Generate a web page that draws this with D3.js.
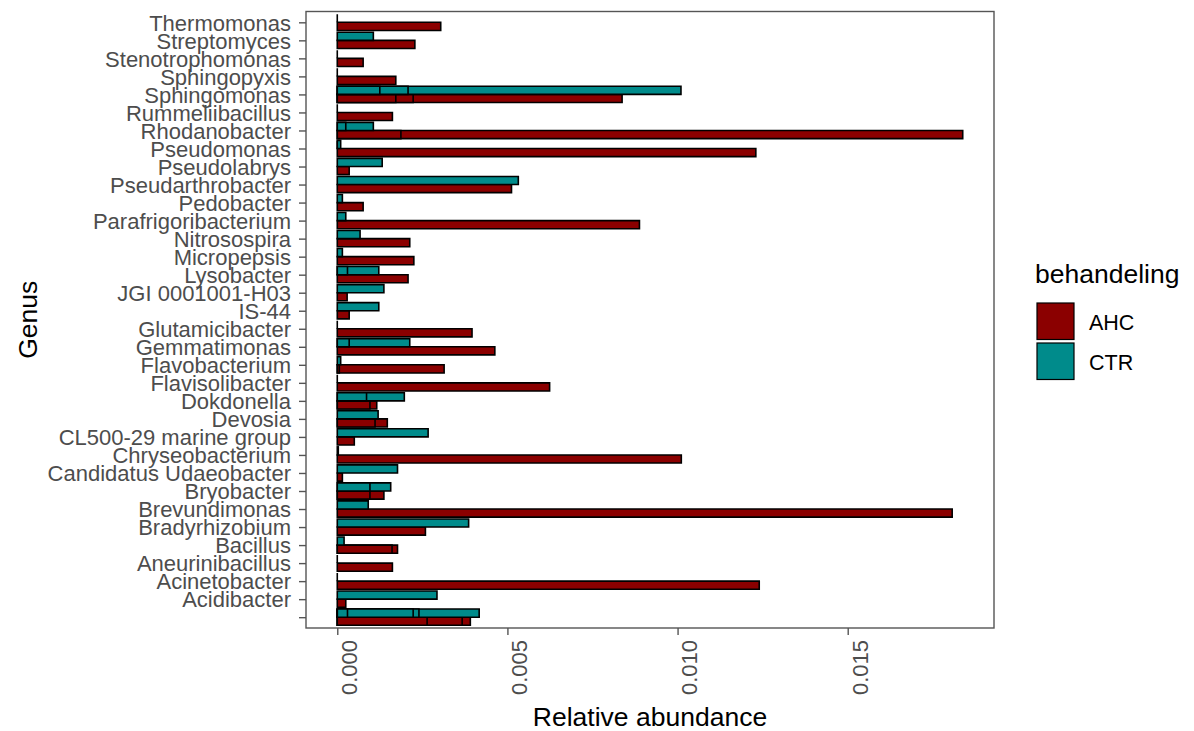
<!DOCTYPE html>
<html>
<head>
<meta charset="utf-8">
<script src="https://cdn.jsdelivr.net/npm/d3@7"></script>
<style>
  html, body { margin: 0; padding: 0; background: #fff; }
  svg { display: block; font-family: "Liberation Sans", Arial, sans-serif; }
</style>
</head>
<body>
<svg id="chart" width="1194" height="731"></svg>
<script>
// ---- data (top to bottom as drawn) ----
const genera = ["Thermomonas","Streptomyces","Stenotrophomonas","Sphingopyxis","Sphingomonas",
  "Rummeliibacillus","Rhodanobacter","Pseudomonas","Pseudolabrys","Pseudarthrobacter","Pedobacter",
  "Parafrigoribacterium","Nitrosospira","Micropepsis","Lysobacter","JGI 0001001-H03","IS-44",
  "Glutamicibacter","Gemmatimonas","Flavobacterium","Flavisolibacter","Dokdonella","Devosia",
  "CL500-29 marine group","Chryseobacterium","Candidatus Udaeobacter","Bryobacter","Brevundimonas",
  "Bradyrhizobium","Bacillus","Aneurinibacillus","Acinetobacter","Acidibacter",""];

// several overlapping rows per genus/treatment (overlaid, not stacked)
const ahcValues = [
  [0.00304],[0.00228],[0.00076],[0.00172],[0.00837,0.00223,0.00172],
  [0.00162],[0.01838,0.00187],[0.0123],[0.00035],[0.00512],[0.00076],
  [0.00888],[0.00213],[0.00225],[0.00208],[0.00029],[0.00035],
  [0.00396],[0.00463],[0.00314,0.00006],[0.00624],[0.00116,0.00096],[0.00147,0.00111],
  [0.0005],[0.01011],[0.00015],[0.00137,0.00096],[0.01807],
  [0.00259],[0.00177,0.00161],[0.00162],[0.0124],[0.00025],[0.00391,0.00367,0.00264]
];
const ctrValues = [
  [0],[0.00106],[0],[0],[0.0101,0.00208,0.00125],
  [0],[0.00106,0.00025],[0.0001,0],[0.00132],[0.00532],[0.00015],
  [0.00025],[0.00067],[0.00015],[0.00122,0.0003],[0.00137],[0.00122],
  [0],[0.00213,0.00035],[0.0001],[0],[0.00197,0.00086],[0.0012],
  [0.00267],[0.00003],[0.00177],[0.00157,0.00096],[0.00091],
  [0.00386],[0.0002],[0],[0],[0.00293],[0.00417,0.0024,0.00223,0.0003,0]
];
const groups = ["AHC","CTR"];
const groupColors = ["#8B0000","#008B8B"];
const xTicks = [0, 0.005, 0.010, 0.015];

// ---- layout ----
const svg = d3.select("#chart");
const P = {l:306, r:994, t:11.5, b:628};

const allVals = ahcValues.flat().concat(ctrValues.flat());
const vmin = d3.min(allVals), vmax = d3.max(allVals);
const pad = 0.05*(vmax - vmin);
const x = d3.scaleLinear().domain([vmin - pad, vmax + pad]).range([P.l, P.r]);
const y = d3.scalePoint().domain(genera).range([P.t, P.b]).padding(0.6);
const step = y.step();
const color = d3.scaleOrdinal().domain(groups).range(groupColors);

// bars
const bars = [];
genera.forEach((g,i)=>{
  [[ "AHC", ahcValues[i]], ["CTR", ctrValues[i]]].forEach(([grp, vals])=>{
    vals.slice().sort((a,b)=>b-a).forEach(v=>bars.push({g, grp, v}));
  });
});
svg.append("g").selectAll("path").data(bars).join("path")
  .attr("d", d=>{
    const yc = y(d.g);
    const y0 = d.grp==="AHC" ? yc : yc - 0.45*step;
    const y1 = d.grp==="AHC" ? yc + 0.45*step : yc;
    const x0 = x(Math.min(0,d.v)), x1 = x(Math.max(0,d.v));
    return `M${x0},${y0}H${x1}V${y1}H${x0}Z`;
  })
  .attr("fill", d=>color(d.grp))
  .attr("stroke", "#000")
  .attr("stroke-width", 1.6);

// panel border
svg.append("rect").attr("x",P.l).attr("y",P.t).attr("width",P.r-P.l).attr("height",P.b-P.t)
  .attr("fill","none").attr("stroke","#555").attr("stroke-width",1.4);

// y axis
const yAxis = svg.append("g").attr("transform",`translate(${P.l},0)`)
  .call(d3.axisLeft(y).tickSize(7).tickPadding(8));
yAxis.select(".domain").remove();
yAxis.selectAll("line").attr("stroke","#555").attr("stroke-width",1.4);
yAxis.selectAll("text").attr("fill","#4D4D4D").style("font-size","22px")
  .attr("font-family","Liberation Sans, Arial, sans-serif").attr("dy","0.35em");

// x axis
const xAxis = svg.append("g").attr("transform",`translate(0,${P.b})`)
  .call(d3.axisBottom(x).tickValues(xTicks).tickFormat(d3.format(".3f")).tickSize(7));
xAxis.select(".domain").remove();
xAxis.selectAll("line").attr("stroke","#555").attr("stroke-width",1.4);
xAxis.selectAll("text")
  .attr("fill","#4D4D4D").style("font-size","22px")
  .attr("font-family","Liberation Sans, Arial, sans-serif")
  .attr("transform","rotate(-90)")
  .attr("text-anchor","end")
  .attr("x",-12).attr("y",0).attr("dy","0.88em");

// axis titles
svg.append("text").attr("x",(P.l+P.r)/2).attr("y",726).attr("text-anchor","middle")
  .style("font-size","26.5px").attr("fill","#000").text("Relative abundance");
svg.append("text").attr("transform",`translate(37,${(P.t+P.b)/2}) rotate(-90)`)
  .attr("text-anchor","middle").style("font-size","26.5px").attr("fill","#000").text("Genus");

// legend
const lg = svg.append("g");
lg.append("text").attr("x",1035).attr("y",283).style("font-size","26.5px").attr("fill","#000").text("behandeling");
groups.forEach((gname,i)=>{
  const yy = 303 + i*40;
  lg.append("rect").attr("x",1037).attr("y",yy).attr("width",37).attr("height",36.5)
    .attr("fill",color(gname)).attr("stroke","#000").attr("stroke-width",1.2);
  lg.append("text").attr("x",1089).attr("y",yy+19).attr("dy","0.35em")
    .style("font-size","21.5px").attr("fill","#000").text(gname);
});
</script>
</body>
</html>
